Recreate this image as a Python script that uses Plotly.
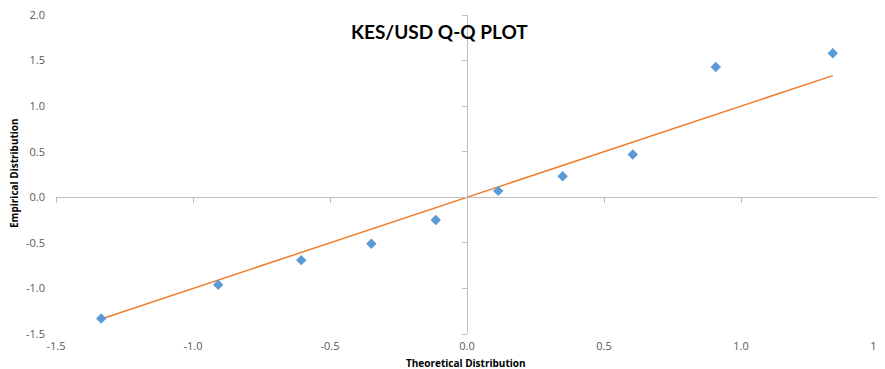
import plotly.graph_objects as go

theoretical = [-1.335, -0.908, -0.605, -0.349, -0.114, 0.114, 0.349, 0.605, 0.908, 1.335]
empirical = [-1.33, -0.96, -0.69, -0.51, -0.25, 0.07, 0.23, 0.47, 1.43, 1.58]
fit_x = [-1.335, 1.335]
fit_y = [-1.335, 1.335]

x_ticks = [-1.5, -1.0, -0.5, 0.0, 0.5, 1.0, 1.5]
y_ticks = [-1.5, -1.0, -0.5, 0.0, 0.5, 1.0, 1.5, 2.0]
x_range = [-1.5, 1.5]
y_range = [-1.5, 2.0]

axis_color = "#BFBFBF"
tick_font = dict(family="Open Sans, Liberation Sans, sans-serif", size=11, color="#595959")
OFF = 8  # page body margin offset
W, H = 885 - OFF, 369 - OFF
# target plot area in screen pixels
PL, PR, PT, PB = 56, 878, 15, 334
ML, MT = PL - OFF, PT - OFF
MR, MB = W - (PR - OFF), H - (PB - OFF)
pw = W - ML - MR
ph = H - MT - MB


def px(sx):
    return (sx - PL) / pw


def py(sy):
    return (PB - sy) / ph


fig = go.Figure()
fig.add_trace(go.Scatter(x=fit_x, y=fit_y, mode="lines",
                         line=dict(color="#ED7D31", width=1.5), showlegend=False))
fig.add_trace(go.Scatter(x=theoretical, y=empirical, mode="markers",
                         marker=dict(symbol="diamond", size=8, color="#5B9BD5"),
                         showlegend=False))
# invisible trace on overlay axes so they render
fig.add_trace(go.Scatter(x=[0], y=[0], xaxis="x2", yaxis="y2", mode="markers",
                         marker=dict(opacity=0), showlegend=False, hoverinfo="skip"))

zero_y_frac = (0 - y_range[0]) / (y_range[1] - y_range[0])
zero_x_frac = (0 - x_range[0]) / (x_range[1] - x_range[0])

fig.update_layout(
    width=W, height=H,
    margin=dict(l=ML, r=MR, t=MT, b=MB, autoexpand=False),
    paper_bgcolor="white", plot_bgcolor="white",
    xaxis=dict(range=x_range, tickvals=x_ticks, ticktext=[f"{v:.1f}" for v in x_ticks],
               showgrid=False, zeroline=False, showline=False, ticks="",
               tickfont=tick_font, automargin=False, ticklabelstandoff=4,
               ticklabeloverflow="allow"),
    yaxis=dict(range=y_range, tickvals=y_ticks, ticktext=[f"{v:.1f}" for v in y_ticks],
               showgrid=False, zeroline=False, showline=False, ticks="",
               tickfont=tick_font, automargin=False, ticklabelstandoff=10,
               ticklabeloverflow="allow"),
    xaxis2=dict(range=x_range, tickvals=x_ticks, overlaying="x", anchor="free",
                position=zero_y_frac, showticklabels=False, showgrid=False, zeroline=False,
                showline=True, linecolor=axis_color, linewidth=1, automargin=False,
                ticks="outside", ticklen=5, tickcolor=axis_color, side="bottom"),
    yaxis2=dict(range=y_range, tickvals=y_ticks, overlaying="y", anchor="free",
                position=zero_x_frac, showticklabels=False, showgrid=False, zeroline=False,
                showline=True, linecolor=axis_color, linewidth=1, automargin=False,
                ticks="outside", ticklen=5, tickcolor=axis_color, side="left"),
    annotations=[
        dict(text="<b>KES/USD Q-Q PLOT</b>", xref="paper", yref="paper",
             x=px(439), y=py(31), xanchor="center", yanchor="middle",
             showarrow=False, font=dict(family="Lato, Open Sans, sans-serif", size=19, color="#000000")),
        dict(text="<b>Theoretical Distribution</b>", xref="paper", yref="paper",
             x=px(466), y=py(363), xanchor="center", yanchor="middle",
             showarrow=False, font=dict(family="Open Sans, sans-serif", size=10, color="#000")),
        dict(text="<b>Empirical Distribution</b>", xref="paper", yref="paper",
             x=px(14), y=py(173), xanchor="center", yanchor="middle",
             textangle=-90, showarrow=False,
             font=dict(family="Open Sans, sans-serif", size=10, color="#000")),
    ],
)

fig.write_html("out.html")
